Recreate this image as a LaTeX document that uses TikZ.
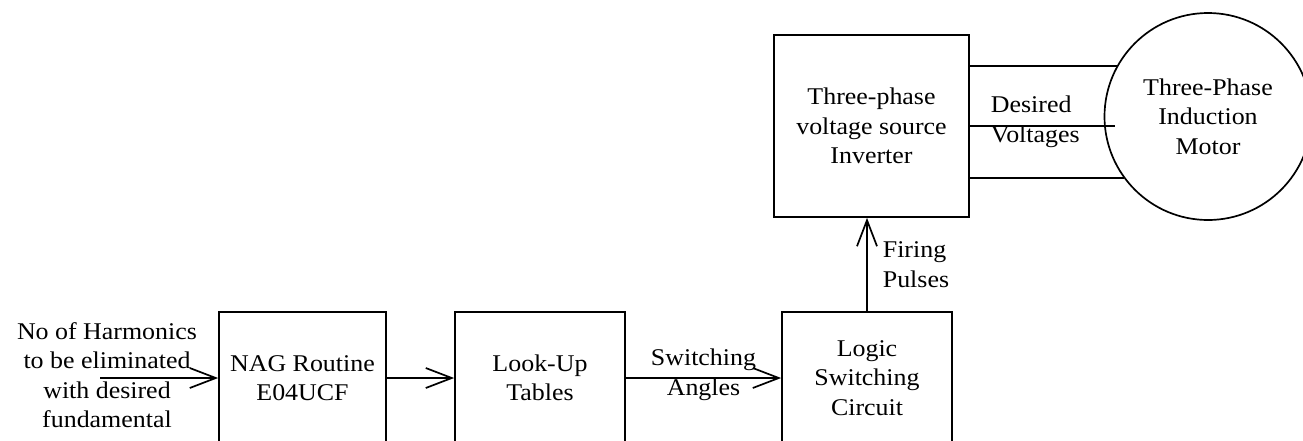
\documentclass[tikz,border=0pt]{standalone}
\usepackage{fontspec}
\setmainfont{Liberation Serif}[FakeStretch=1.08]
\usetikzlibrary{arrows.meta}
\newcommand\diagfont{\fontsize{24}{29.5}\selectfont}
\begin{document}
\begin{tikzpicture}[x=1pt,y=-1pt, line width=1.7pt,
  box/.style={draw, rectangle, inner sep=0pt, align=center, font=\diagfont},
  lbl/.style={inner sep=0pt, font=\diagfont},
  arr/.style={-{Straight Barb[length=26pt,width=20pt]}}]
\clip (0,0) rectangle (1303,440);
\node[box, minimum width=167, minimum height=132] (nag) at (302.5,378) {NAG Routine\\E04UCF};
\node[box, minimum width=170, minimum height=132] (lut) at (540,378) {Look-Up\\Tables};
\node[box, minimum width=170, minimum height=132] (logic) at (867,378) {Logic\\Switching\\Circuit};
\node[box, minimum width=195, minimum height=182] (inv) at (871.5,126) {Three-phase\\voltage source\\Inverter};
\node[draw, circle, inner sep=0pt, minimum size=207, align=center, font=\diagfont] (motor) at (1208,116.5) {Three-Phase\\Induction\\Motor};
\node[lbl, align=center] (input) at (107,375) {No of Harmonics\\to be eliminated\\with desired\\fundamental};
\coordinate (in) at (100,378);
\coordinate (mid) at (1115,126);
\draw[arr] (in) -- (nag.west);
\draw[arr] (nag.east) -- (lut.west);
\draw[arr] (lut.east) -- node[lbl, align=center, yshift=3] (sw) {Switching\\Angles} (logic.west);
\draw[arr] (logic.north) -- node[lbl, align=left, anchor=west, xshift=15] (fp) {Firing\\Pulses} (logic.north |- inv.south);
\draw (inv.east |- motor.151.4) -- (motor.151.4);
\draw (inv.east |- mid) -- (mid);
\draw (inv.east |- motor.216.5) -- (motor.216.5);
\node[lbl, align=left, anchor=west] (dv) at (990,122) {Desired\\Voltages};
\end{tikzpicture}
\end{document}
